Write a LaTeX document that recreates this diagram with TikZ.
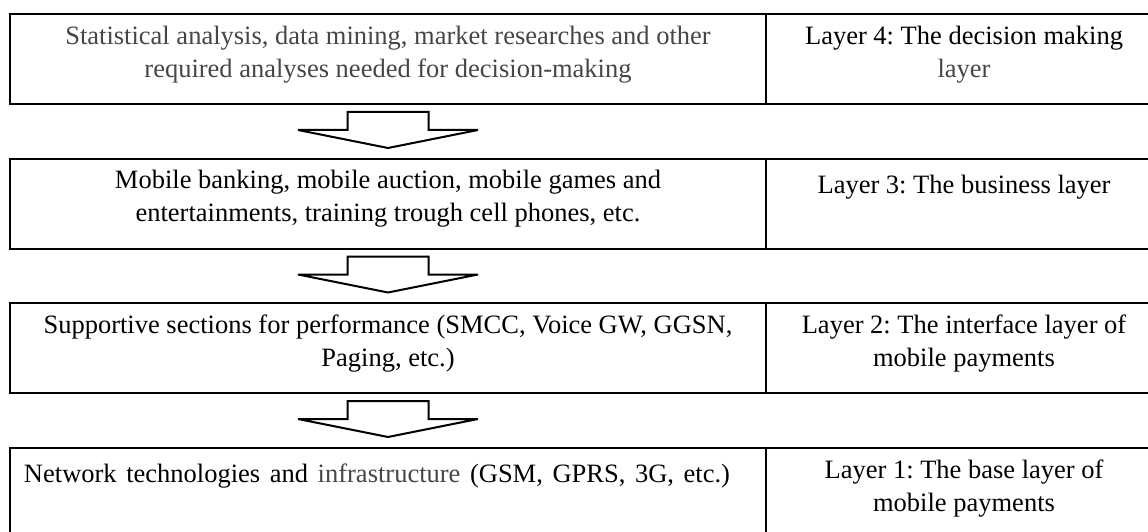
\documentclass[tikz,border=0pt]{standalone}
\usepackage{fontspec}
\setmainfont{Liberation Serif}
\frenchspacing
\definecolor{textgrey}{RGB}{70,70,70}
\tikzset{
  cellbox/.style={draw=black, line width=2pt, minimum height=90pt, inner sep=0pt, outer sep=0pt},
  leftcell/.style={cellbox, minimum width=756pt},
  rightcell/.style={cellbox, minimum width=396pt},
  celltext/.style={anchor=north, align=center, inner sep=0pt,
    font=\fontsize{26.5}{33}\selectfont, execute at begin node=\strut},
  blockline/.style={draw=black, line width=2pt, line join=miter, fill=white},
  downarrow/.pic={
    \path[blockline] (-40.5,0) -- (40.5,0) -- (40.5,18) -- (90,18) -- (0,36)
      -- (-90,18) -- (-40.5,18) -- cycle;
  }
}
\begin{document}
\begin{tikzpicture}[x=1pt, y=-1pt]
\useasboundingbox (0,0) rectangle (1148,532);

% the four layers, each a description cell and a layer-name cell
\node[leftcell]  (c4L) at (388,59)    {};
\node[rightcell] (c4R) at (964,59)    {};
\node[leftcell]  (c3L) at (388,203.5) {};
\node[rightcell] (c3R) at (964,203.5) {};
\node[leftcell]  (c2L) at (388,348)   {};
\node[rightcell] (c2R) at (964,348)   {};
\node[leftcell]  (c1L) at (388,492.5) {};
\node[rightcell] (c1R) at (964,492.5) {};

% texts, set from the top of each cell
\node[celltext, text=textgrey] (t4L) at ([yshift=-11.9pt]c4L.north)
  {Statistical analysis, data mining, market researches and other\\required analyses needed for decision-making};
\node[celltext] (t4R) at ([yshift=-11.9pt]c4R.north)
  {Layer 4: The decision making\\\textcolor{textgrey}{layer}};
\node[celltext] (t3L) at ([yshift=-11.9pt]c3L.north)
  {Mobile banking, mobile auction, mobile games and\\entertainments, training trough cell phones, etc.};
\node[celltext] (t3R) at ([yshift=-11.9pt]c3R.north)
  {Layer 3: The business layer};
\node[celltext] (t2L) at ([yshift=-11.9pt]c2L.north)
  {Supportive sections for performance (SMCC, Voice GW, GGSN,\\Paging, etc.)};
\node[celltext] (t2R) at ([yshift=-11.9pt]c2R.north)
  {Layer 2: The interface layer of\\mobile payments};
\node[celltext] (t1L) at ([xshift=-11pt, yshift=-11.9pt]c1L.north)
  {\spaceskip=9.6pt Network technologies and \textcolor{textgrey}{infrastructure} (GSM, GPRS, 3G, etc.)};
\node[celltext] (t1R) at ([yshift=-11.9pt]c1R.north)
  {Layer 1: The base layer of\\mobile payments};

% block arrows between consecutive layers
\pic at ([yshift=-8pt]c4L.south) {downarrow};
\pic at ([yshift=-8pt]c3L.south) {downarrow};
\pic at ([yshift=-8pt]c2L.south) {downarrow};
\end{tikzpicture}
\end{document}
